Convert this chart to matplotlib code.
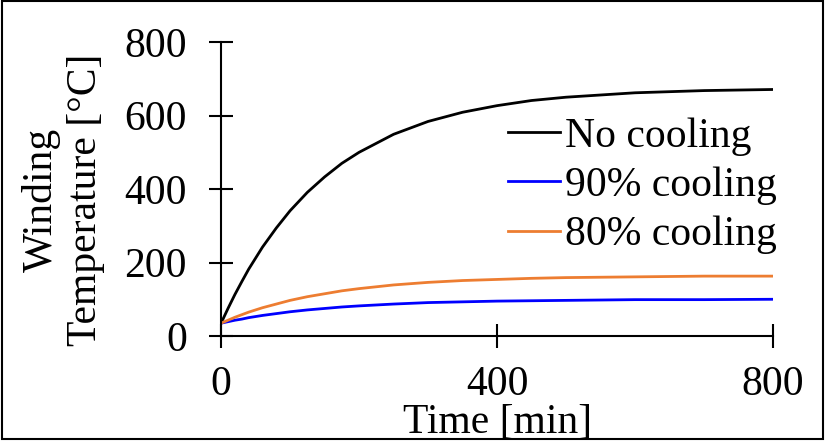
import matplotlib
matplotlib.use("Agg")
import matplotlib.pyplot as plt
from matplotlib.patches import Rectangle

plt.rcParams['font.family'] = ['Liberation Serif', 'DejaVu Serif']

# time [min] and winding temperature [°C]
time_min = [0, 10, 20, 30, 40, 50, 60, 80, 100, 125, 150, 175, 200,
            250, 300, 350, 400, 450, 500, 600, 700, 800]
no_cooling = [35, 75, 113, 148, 182, 212, 242, 294, 341, 391, 433, 470, 500,
              549, 584, 609, 627, 641, 650, 662, 668, 671]
cooling_90 = [35, 39, 43, 46, 50, 53, 56, 61, 66, 71, 75, 79, 82,
              87, 91, 93, 95, 96, 97, 99, 99, 100]
cooling_80 = [35, 43, 51, 58, 65, 71, 77, 87, 97, 107, 115, 123, 129,
              139, 146, 151, 154, 157, 159, 161, 163, 163]

x_ticks = [0, 400, 800]
y_ticks = [0, 200, 400, 600, 800]

fs = 30

fig = plt.figure(figsize=(8.25, 4.43), dpi=100)
ax = fig.add_axes([0.268, 0.2415, 0.669, 0.6635])

ax.plot(time_min, no_cooling, color='black', lw=2.0, label='No cooling')
ax.plot(time_min, cooling_90, color='#0000FF', lw=2.0, label='90% cooling')
ax.plot(time_min, cooling_80, color='#ED7D31', lw=2.0, label='80% cooling')

ax.set_xlim(0, 800)
ax.set_ylim(0, 800)
ax.set_xticks(x_ticks)
ax.set_yticks(y_ticks)

for side in ['top', 'right']:
    ax.spines[side].set_visible(False)
for side in ['left', 'bottom']:
    ax.spines[side].set_linewidth(1.5)

ax.tick_params(direction='inout', length=17, width=1.5, pad=16, labelsize=fs)
ax.tick_params(axis='x', pad=13)

ax.set_xlabel('Time [min]', fontsize=fs)
ax.xaxis.set_label_coords(0.5, -0.23)
ax.set_ylabel('Winding\nTemperature [°C]', fontsize=fs, linespacing=1.2)
ax.yaxis.set_label_coords(-0.21, 0.463)

ax.legend(loc='upper left', bbox_to_anchor=(0.52, 0.745), frameon=False,
          fontsize=fs, handlelength=1.25, handletextpad=0.12,
          labelspacing=0.26, borderpad=0, borderaxespad=0)

# border round the whole picture
fig.patches.append(Rectangle((0.002, 0.008), 0.996, 0.99, transform=fig.transFigure,
                             fill=False, edgecolor='black', lw=1.5))

fig.savefig('out.png', dpi=100)
